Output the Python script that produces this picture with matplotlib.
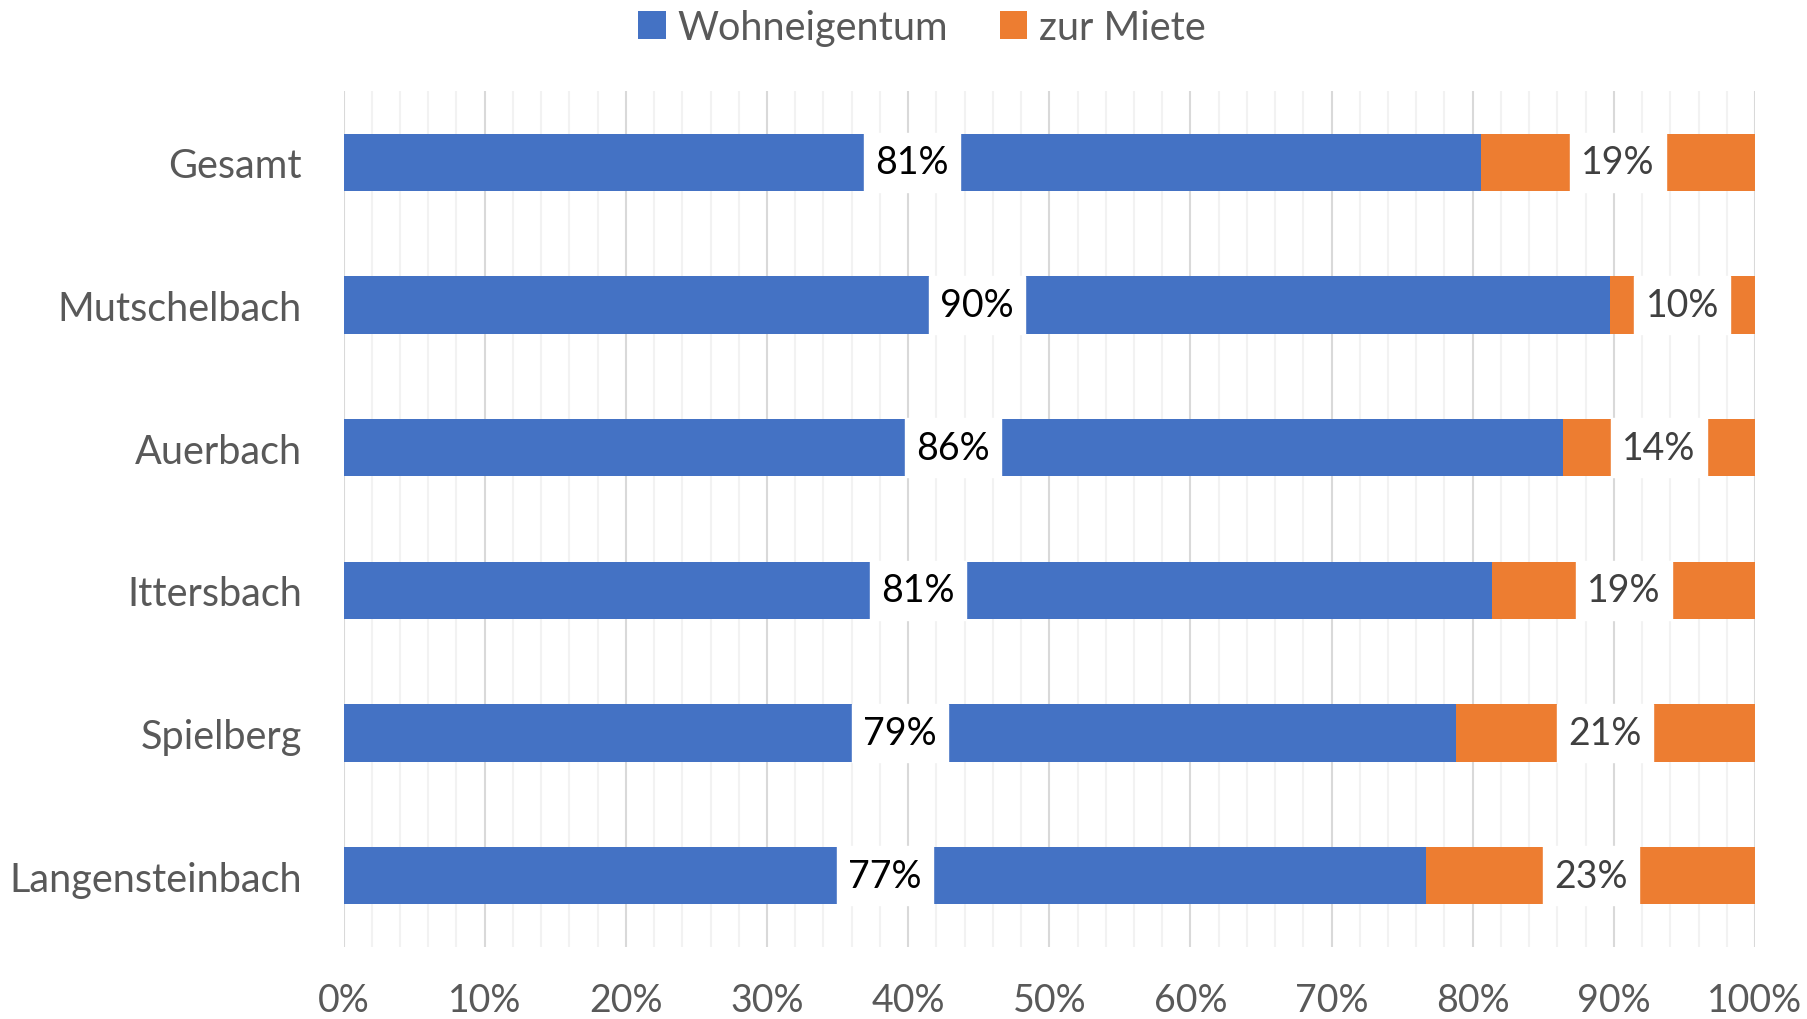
import numpy as np
import matplotlib.pyplot as plt
from matplotlib.ticker import MultipleLocator, PercentFormatter

plt.rcParams['font.family'] = ['Lato', 'DejaVu Sans']

orte = ["Gesamt", "Mutschelbach", "Auerbach", "Ittersbach", "Spielberg", "Langensteinbach"]
wohneigentum = [80.6, 89.7, 86.4, 81.4, 78.8, 76.7]
miete = [19.4, 10.3, 13.6, 18.6, 21.2, 23.3]

blau = "#4472C4"
orange = "#ED7D31"

fig = plt.figure(figsize=(18.08, 10.20), dpi=100)
ax = fig.add_axes([0.190, 0.0706, 0.7807, 0.8392])

y = np.arange(len(orte))
b1 = ax.barh(y, wohneigentum, height=0.4, color=blau, label="Wohneigentum", zorder=3)
b2 = ax.barh(y, miete, left=wohneigentum, height=0.4, color=orange, label="zur Miete", zorder=3)

# Datenbeschriftungen mit weissem Kasten in der Mitte der Segmente
for i in range(len(orte)):
    ax.text(wohneigentum[i] / 2, y[i], f"{round(wohneigentum[i])}%", ha="center", va="center",
            fontsize=27, color="black", zorder=4,
            bbox=dict(facecolor="white", edgecolor="white", linewidth=1, boxstyle="square,pad=0.3"))
    ax.text(wohneigentum[i] + miete[i] / 2, y[i], f"{round(miete[i])}%", ha="center", va="center",
            fontsize=27, color="#404040", zorder=4,
            bbox=dict(facecolor="white", edgecolor="white", linewidth=1, boxstyle="square,pad=0.3"))

ax.set_xlim(0, 100)
ax.set_ylim(len(orte) - 0.5, -0.5)
ax.set_yticks(y)
ax.set_yticklabels(orte)
ax.xaxis.set_major_locator(MultipleLocator(10))
ax.xaxis.set_minor_locator(MultipleLocator(2))
ax.xaxis.set_major_formatter(PercentFormatter(decimals=0))
ax.grid(axis="x", which="major", color="#D9D9D9", linewidth=1.5, zorder=0)
ax.grid(axis="x", which="minor", color="#F2F2F2", linewidth=1.5, zorder=0)
ax.tick_params(axis="both", which="both", length=0, labelcolor="#595959")
ax.tick_params(axis="x", pad=25, labelsize=27)
ax.tick_params(axis="y", pad=30, labelsize=28.5)
for s in ax.spines.values():
    s.set_visible(False)

fig.legend(handles=[b1, b2], loc="center", bbox_to_anchor=(0.51, 0.972), ncol=2, frameon=False,
           fontsize=28.5, labelcolor="#595959", handlelength=0.7, handleheight=0.7,
           handletextpad=0.3, columnspacing=1.3)

fig.savefig("out.png", dpi=100)
